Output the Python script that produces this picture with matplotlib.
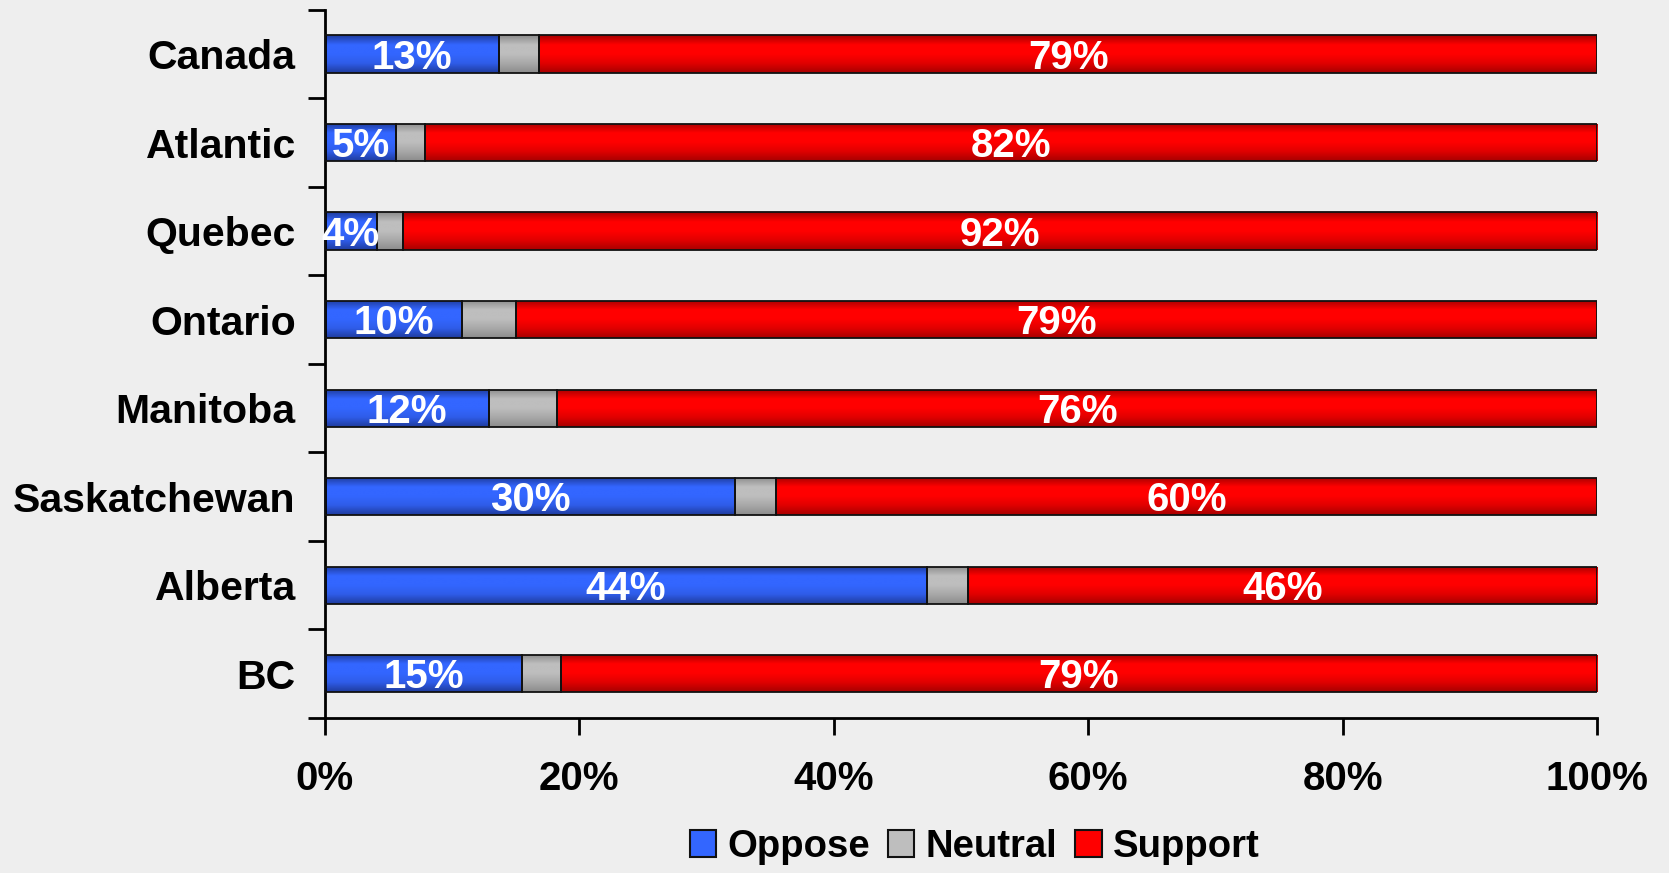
import numpy as np
import matplotlib
matplotlib.use("Agg")
import matplotlib.pyplot as plt
from matplotlib.colors import LinearSegmentedColormap
from matplotlib.patches import Patch

regions = ["Canada", "Atlantic", "Quebec", "Ontario", "Manitoba", "Saskatchewan", "Alberta", "BC"]
oppose = [13, 5, 4, 10, 12, 30, 44, 15]
neutral = [3, 2, 2, 4, 5, 3, 3, 3]
support = [79, 82, 92, 79, 76, 60, 46, 79]
xticks = [0, 20, 40, 60, 80, 100]

plt.rcParams["font.family"] = ["Liberation Sans", "DejaVu Sans"]
plt.rcParams["font.weight"] = "bold"
BG = "#eeeeee"

# (edge-dark, mid, bright) for a cylinder-ish shading
shades = {
    "Oppose": ("#1f3c9e", "#2f5ce8", "#3366ff"),
    "Neutral": ("#8c8c8c", "#a8a8a8", "#bebebe"),
    "Support": ("#a80000", "#e00000", "#ff0000"),
}

opp = np.array(oppose, float)
neu = np.array(neutral, float)
sup = np.array(support, float)
tot = opp + neu + sup
p_opp, p_neu, p_sup = opp / tot * 100, neu / tot * 100, sup / tot * 100

fig = plt.figure(figsize=(16.69, 8.73), dpi=100, facecolor=BG)
ax = fig.add_axes([0.1947, 0.1776, 0.7622, 0.8112])
ax.set_facecolor(BG)

y = np.arange(len(regions))
h = 0.42
segs = [("Oppose", p_opp, np.zeros_like(p_opp)),
        ("Neutral", p_neu, p_opp),
        ("Support", p_sup, p_opp + p_neu)]

for name, w, left in segs:
    dark, mid, bright = shades[name]
    cmap = LinearSegmentedColormap.from_list(name, [dark, bright, bright, mid, dark])
    bars = ax.barh(y, w, left=left, height=h, facecolor="none",
                   edgecolor="#111111", linewidth=1.3, zorder=3)
    grad = np.linspace(0, 1, 64).reshape(-1, 1)
    for b in bars:
        x0, y0 = b.get_x(), b.get_y()
        im = ax.imshow(grad, cmap=cmap, aspect="auto", origin="upper",
                       extent=[x0, x0 + b.get_width(), y0 + b.get_height(), y0],
                       zorder=2, interpolation="bilinear")
        im.set_clip_path(b)

for i in range(len(regions)):
    ax.text(p_opp[i] / 2, y[i] + 0.04, f"{oppose[i]}%", color="white", fontsize=29,
            fontweight="bold", ha="center", va="center", zorder=4)
    ax.text(p_opp[i] + p_neu[i] + p_sup[i] / 2, y[i] + 0.04, f"{support[i]}%", color="white",
            fontsize=29, fontweight="bold", ha="center", va="center", zorder=4)

ax.set_xlim(0, 100)
ax.set_ylim(len(regions) - 0.5, -0.5)

ax.set_xticks(xticks)
ax.set_xticklabels([f"{t}%" for t in xticks], fontsize=29, fontweight="bold")
ax.tick_params(axis="x", length=12, width=2, pad=18, direction="out")

ax.set_yticks(np.arange(len(regions) + 1) - 0.5)
ax.set_yticklabels([])
ax.tick_params(axis="y", which="major", length=12, width=2, direction="out")
ax.set_yticks(y, minor=True)
ax.set_yticklabels(regions, minor=True, fontsize=29.5, fontweight="bold")
ax.tick_params(axis="y", which="minor", length=0, pad=21)

for s in ["top", "right"]:
    ax.spines[s].set_visible(False)
for s in ["left", "bottom"]:
    ax.spines[s].set_linewidth(2)

handles = [Patch(facecolor=shades[n][2], edgecolor="#111111", linewidth=1.5, label=n)
           for n in ["Oppose", "Neutral", "Support"]]
fig.legend(handles=handles, loc="center", bbox_to_anchor=(0.584, 0.03), ncol=3, frameon=False,
           handlelength=0.7, handleheight=0.75, handletextpad=0.3, borderpad=0.1,
           columnspacing=0.45, prop={"weight": "bold", "size": 27.5})

fig.savefig("out.png", dpi=100, facecolor=BG)
